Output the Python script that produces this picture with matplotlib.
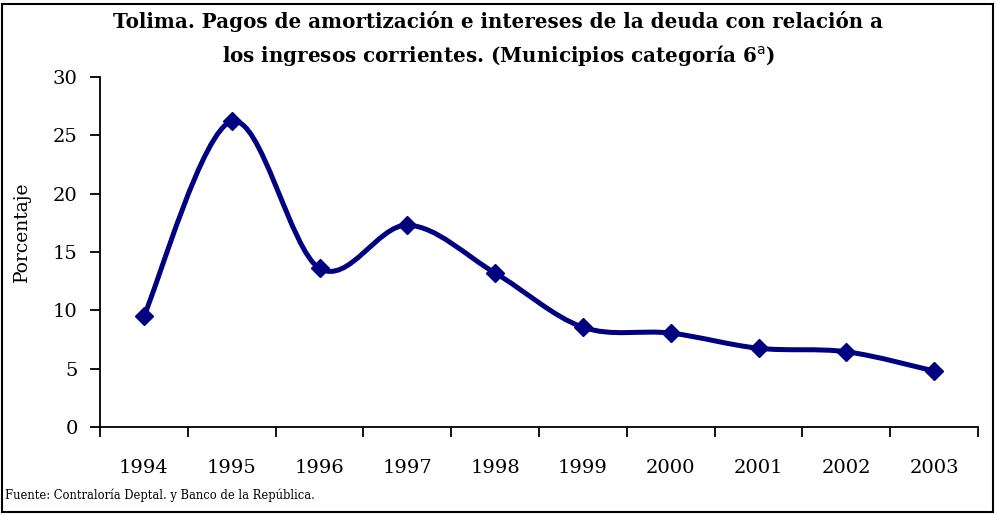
import numpy as np
import matplotlib.pyplot as plt
from matplotlib.path import Path
from matplotlib.patches import PathPatch, Rectangle

years = ['1994', '1995', '1996', '1997', '1998', '1999', '2000', '2001', '2002', '2003']
porcentaje = [9.5, 26.2, 13.6, 17.3, 13.2, 8.55, 8.05, 6.75, 6.45, 4.8]

LINE = '#000080'
plt.rcParams['font.family'] = ['DejaVu Serif']

fig = plt.figure(figsize=(9.96, 5.14), dpi=100)
ax = fig.add_axes([100/996, 87/514, 878/996, 350/514])

# Excel-style smoothed line: cubic Bezier through the points
x = np.arange(len(years), dtype=float)
y = np.array(porcentaje)
pts = np.column_stack([x, y])
verts = [pts[0]]
codes = [Path.MOVETO]
for i in range(len(pts) - 1):
    p0 = pts[i - 1] if i > 0 else pts[i]
    p1, p2 = pts[i], pts[i + 1]
    p3 = pts[i + 2] if i + 2 < len(pts) else pts[i + 1]
    c1 = p1 + (p2 - p0) / 6
    c2 = p2 - (p3 - p1) / 6
    verts += [c1, c2, p2]
    codes += [Path.CURVE4] * 3
ax.add_patch(PathPatch(Path(verts, codes), fill=False, edgecolor=LINE, lw=3.6,
                       capstyle='round', joinstyle='round', zorder=2))
ax.plot(x, y, ls='none', marker='D', ms=9, color=LINE, zorder=3)

ax.set_xlim(-0.5, len(years) - 0.5)
ax.set_ylim(0, 30)
ax.set_yticks(range(0, 31, 5))
ax.set_xticks(np.arange(-0.5, len(years), 1.0))
ax.set_xticklabels([])
ax.set_xticks(x, minor=True)
ax.set_xticklabels(years, minor=True)
ax.tick_params(axis='x', which='major', direction='out', length=7, width=1.3)
ax.tick_params(axis='x', which='minor', length=0, pad=23, labelsize=14)
ax.tick_params(axis='y', direction='out', length=7, width=1.3, pad=9, labelsize=14)
for s in ['top', 'right']:
    ax.spines[s].set_visible(False)
for s in ['left', 'bottom']:
    ax.spines[s].set_linewidth(1.3)

fig.text(0.5, 1 - 22/514, 'Tolima. Pagos de amortización e intereses de la deuda con relación a',
         ha='center', va='center', fontsize=14.3, fontweight='bold')
fig.text(0.5, 1 - 55/514, 'los ingresos corrientes. (Municipios categoría 6$^{\\mathrm{a}}$)',
         ha='center', va='center', fontsize=14.3, fontweight='bold')
fig.text(22/996, 1 - 232/514, 'Porcentaje', rotation=90, ha='center', va='center', fontsize=13.5)
fig.text(5/996, 1 - 495/514, 'Fuente: Contraloría Deptal. y Banco de la República.',
         ha='left', va='center', fontsize=8.3)

fig.patches.append(Rectangle((2/996, 2/514), 991/996, 508/514, transform=fig.transFigure,
                             fill=False, edgecolor='black', lw=1.5))

fig.savefig('out.png', dpi=100)
